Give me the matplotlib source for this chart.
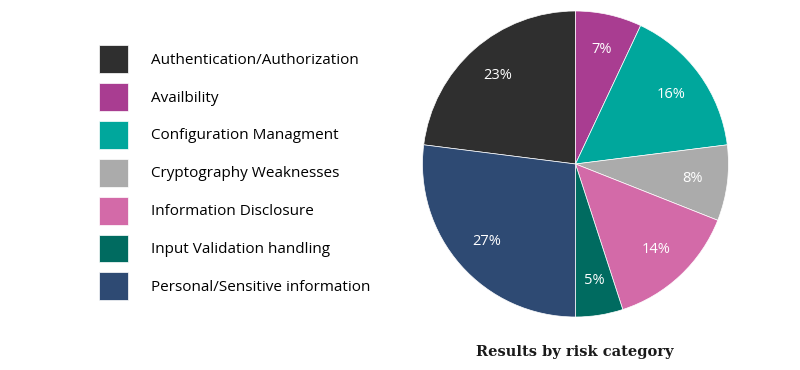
import matplotlib.pyplot as plt

# kategorier og andeler (prosent)
kategorier = ["Authentication/Authorization", "Availbility", "Configuration Managment",
              "Cryptography Weaknesses", "Information Disclosure", "Input Validation handling",
              "Personal/Sensitive information"]
andeler = [23, 7, 16, 8, 14, 5, 27]
farger = ["#2f2f2f", "#a93d91", "#00a79c", "#ababab", "#d36aa8", "#006b60", "#2e4a73"]

fig = plt.figure(figsize=(8, 3.7), dpi=100)
ax = fig.add_axes([422.5 / 800, 53 / 370, 306 / 800, 306 / 370])

# første kile (Auth) skal slutte rett opp, saa vi starter litt til venstre
start = 90 + andeler[0] / sum(andeler) * 360
kiler, _, tekster = ax.pie(andeler, colors=farger, startangle=start, counterclock=False,
                          autopct="%d%%", pctdistance=0.77,
                          wedgeprops=dict(edgecolor="white", linewidth=0.5),
                          textprops=dict(color="white", fontsize=10.5, family="Open Sans"))
ax.set_xlim(-1, 1)
ax.set_ylim(-1, 1)

fig.legend(kiler, kategorier, loc="upper left", bbox_to_anchor=(99 / 800, 1 - 45 / 370),
           frameon=False, borderpad=0, borderaxespad=0,
           prop=dict(family="Open Sans", size=11),
           handlelength=1.9, handleheight=2.44, handletextpad=1.49, labelspacing=0.65)

fig.text(575 / 800, 1 - 352 / 370, "Results by risk category", ha="center", va="center",
         family="DejaVu Serif", weight="bold", fontsize=10.5, color="#1a1a1a")

plt.savefig("out.png")
